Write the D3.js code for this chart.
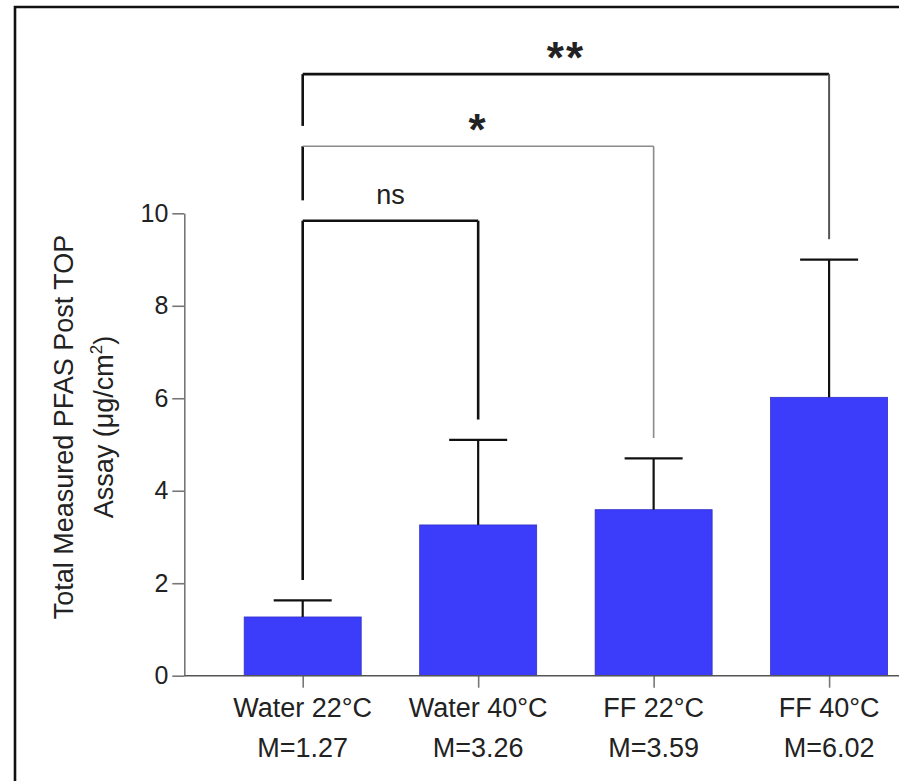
<!DOCTYPE html>
<html>
<head>
<meta charset="utf-8">
<script src="https://cdn.jsdelivr.net/npm/d3@7"></script>
<style>
  html, body { margin: 0; padding: 0; background: #fff; }
  svg { display: block; }
  text { font-family: "Liberation Sans", Arial, Helvetica, sans-serif; fill: #222; }
</style>
</head>
<body>
<svg id="chart" width="899" height="781"></svg>
<script>
// ---- data ----
const categories = ["Water 22°C", "Water 40°C", "FF 22°C", "FF 40°C"];
const meanLabels = ["M=1.27", "M=3.26", "M=3.59", "M=6.02"];
const means = [1.27, 3.26, 3.59, 6.02];
const upperError = [1.63, 5.10, 4.70, 9.00];
const yTicks = [0, 2, 4, 6, 8, 10];
const comparisons = [
  { from: 0, to: 1, level: 9.84, label: "ns" },
  { from: 0, to: 2, level: 11.45, label: "*" },
  { from: 0, to: 3, level: 13.01, label: "**" }
];
const yTitle = ["Total Measured PFAS Post TOP", "Assay (μg/cm", "2", ")"];

// ---- styles ----
const bracketStyles = [
  { h: ["#111", 2.6], l: ["#111", 2.6], r: ["#111", 2.6] },
  { h: ["#8a8a8a", 1.6], l: ["#111", 2.6], r: ["#8a8a8a", 1.6] },
  { h: ["#111", 2.6], l: ["#111", 2.6], r: ["#555", 2.0] }
];

const svg = d3.select("#chart");
const W = 899, H = 781;

const y = d3.scaleLinear().domain([0, 10]).range([675.7, 213.3]);
const x = d3.scalePoint().domain(categories).range([302.7, 829.1]);
const barW = 117;
const capW = 58;
const legGap = 0.44;

// frame (cropped image border: top and left only)
svg.append("path")
  .attr("d", `M15,${H} L15,7 L${W},7`)
  .attr("fill", "none").attr("stroke", "#111").attr("stroke-width", 2.6);

// bars
svg.append("g").selectAll("rect").data(means).join("rect")
  .attr("x", (d, i) => x(categories[i]) - barW / 2)
  .attr("y", d => y(d))
  .attr("width", barW)
  .attr("height", d => y(0) - y(d))
  .attr("fill", "#3c3cfb")
  .attr("stroke", "#3030c8").attr("stroke-width", 0.8);

// error bars
const eb = svg.append("g").attr("stroke", "#111").attr("stroke-width", 2.2);
means.forEach((m, i) => {
  const cx = x(categories[i]);
  eb.append("line").attr("x1", cx).attr("x2", cx).attr("y1", y(m)).attr("y2", y(upperError[i]));
  eb.append("line").attr("x1", cx - capW / 2).attr("x2", cx + capW / 2)
    .attr("y1", y(upperError[i])).attr("y2", y(upperError[i]));
});

// y axis
const yAxis = svg.append("g").attr("transform", "translate(184.3,0)")
  .call(d3.axisLeft(y).tickValues(yTicks).tickSize(12).tickSizeOuter(0).tickPadding(4));
yAxis.select(".domain").attr("stroke", "#777").attr("stroke-width", 1.6);
yAxis.selectAll(".tick line").attr("stroke", "#777").attr("stroke-width", 1.6);
yAxis.selectAll(".tick text").attr("font-size", 25).attr("fill", "#222")
  .attr("font-family", "'Liberation Sans', Arial, sans-serif");

// x axis
const xAxis = svg.append("g").attr("transform", `translate(0,${y(0)})`)
  .call(d3.axisBottom(x).tickSize(12).tickSizeOuter(0).tickFormat(""));
xAxis.select(".domain").remove();
xAxis.selectAll(".tick line").attr("stroke", "#777").attr("stroke-width", 1.6);
svg.append("line").attr("x1", 184.3).attr("x2", W).attr("y1", y(0)).attr("y2", y(0))
  .attr("stroke", "#555").attr("stroke-width", 1.6);

// x labels
const xl = svg.append("g").attr("font-size", 27).attr("text-anchor", "middle");
categories.forEach((c, i) => {
  xl.append("text").attr("x", x(c)).attr("y", 716.7).text(c);
  xl.append("text").attr("x", x(c)).attr("y", 757.3).text(meanLabels[i]);
});

// y title
const yt = svg.append("g").attr("transform", "translate(0,427) rotate(-90)")
  .attr("text-anchor", "middle").attr("font-size", 27);
yt.append("text").attr("x", 0).attr("y", 73).text(yTitle[0]);
const t2 = yt.append("text").attr("x", 0).attr("y", 113);
t2.append("tspan").text(yTitle[1]);
t2.append("tspan").attr("dy", -11).attr("font-size", 17).text(yTitle[2]);
t2.append("tspan").attr("dy", 11).text(yTitle[3]);

// significance brackets
const brG = svg.append("g").attr("fill", "none");
comparisons.forEach((c, k) => {
  const x1 = x(categories[c.from]), x2 = x(categories[c.to]);
  const yl = y(c.level);
  // left leg bottom: top of the next lower bracket on that group, or its error bar
  const lowerOnLeft = comparisons.filter(o => o.from === c.from && o.level < c.level).map(o => o.level);
  const leftBase = lowerOnLeft.length ? d3.max(lowerOnLeft) : upperError[c.from];
  const rightBase = upperError[c.to];
  const s = bracketStyles[k];
  brG.append("line").attr("x1", x1).attr("x2", x1).attr("y1", yl).attr("y2", y(leftBase + legGap))
    .attr("stroke", s.l[0]).attr("stroke-width", s.l[1]);
  brG.append("line").attr("x1", x1).attr("x2", x2).attr("y1", yl).attr("y2", yl)
    .attr("stroke", s.h[0]).attr("stroke-width", s.h[1]);
  brG.append("line").attr("x1", x2).attr("x2", x2).attr("y1", yl).attr("y2", y(rightBase + legGap))
    .attr("stroke", s.r[0]).attr("stroke-width", s.r[1]);

  const mx = (x1 + x2) / 2;
  if (c.label === "ns") {
    svg.append("text").attr("x", mx).attr("y", yl - 17).attr("text-anchor", "middle")
      .attr("font-size", 27).text(c.label);
  } else {
    svg.append("text").attr("x", mx).attr("y", yl - 1).attr("text-anchor", "middle")
      .attr("font-size", 44).attr("font-weight", "bold").attr("fill", "#111")
      .attr("letter-spacing", 2).text(c.label);
  }
});
</script>
</body>
</html>
